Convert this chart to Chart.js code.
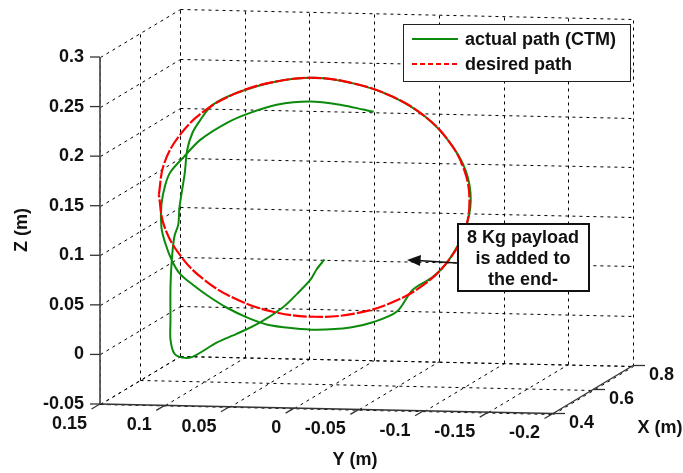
<!DOCTYPE html>
<html>
<head>
<meta charset="utf-8">
<script src="https://cdn.jsdelivr.net/npm/chart.js@4.4.1/dist/chart.umd.min.js"></script>
<style>
  html, body { margin: 0; padding: 0; background: #fff; }
  canvas { display: block; }
</style>
</head>
<body>
<canvas id="chart" width="683" height="473"></canvas>
<script>
// axis ticks (X is depth, Y runs left->right reversed, Z vertical)
const xTicks = [0.4, 0.6, 0.8];
const xTickLabels = ['0.4', '0.6', '0.8'];
const yTicks = [0.15, 0.1, 0.05, 0, -0.05, -0.1, -0.15, -0.2];
const yTickLabels = ['0.15', '0.1', '0.05', '0', '-0.05', '-0.1', '-0.15', '-0.2'];
const zTicks = [-0.05, 0, 0.05, 0.1, 0.15, 0.2, 0.25, 0.3];
const zTickLabels = ['-0.05', '0', '0.05', '0.1', '0.15', '0.2', '0.25', '0.3'];

// both paths lie in the plane X = 0.5
const pathX = 0.5;

// desired path (circle in the Y-Z plane)
const desiredY = [0.12, 0.116, 0.104, 0.085, 0.06, 0.031, 0, -0.031, -0.06, -0.085, -0.104, -0.116,
  -0.12, -0.116, -0.104, -0.085, -0.06, -0.031, 0, 0.031, 0.06, 0.085, 0.104, 0.116, 0.12];
const desiredZ = [0.15, 0.181, 0.21, 0.235, 0.254, 0.266, 0.271, 0.266, 0.254, 0.235, 0.21, 0.181,
  0.15, 0.119, 0.09, 0.065, 0.046, 0.034, 0.03, 0.034, 0.046, 0.065, 0.09, 0.119, 0.15];

// actual path (CTM)
const actualY = [-0.008, -0.002, 0.003, 0.013, 0.024, 0.042, 0.060, 0.075, 0.094, 0.102, 0.108,
  0.111, 0.111, 0.111, 0.110, 0.108, 0.105, 0.104, 0.100, 0.098, 0.094, 0.088, 0.079,
  0.060, 0.031, 0.000, -0.031, -0.060, -0.085, -0.104, -0.117, -0.121, -0.116, -0.104, -0.092, -0.076,
  -0.064, -0.046, -0.028, -0.002, 0.016, 0.036, 0.052, 0.067, 0.081, 0.094, 0.104, 0.110,
  0.115, 0.118, 0.118, 0.115, 0.111, 0.101, 0.088, 0.067, 0.050, 0.029, 0.003, -0.022, -0.038, -0.046];
const actualZ = [0.088, 0.078, 0.067, 0.053, 0.039, 0.023, 0.011, 0.002, -0.013, -0.014, -0.010,
  0.004, 0.024, 0.057, 0.084, 0.108, 0.120, 0.138, 0.172, 0.196, 0.213, 0.226, 0.241,
  0.254, 0.266, 0.271, 0.266, 0.254, 0.235, 0.210, 0.181, 0.150, 0.119, 0.090, 0.073, 0.059,
  0.037, 0.026, 0.020, 0.017, 0.018, 0.021, 0.028, 0.037, 0.048, 0.060, 0.071, 0.084,
  0.101, 0.117, 0.140, 0.160, 0.173, 0.188, 0.206, 0.224, 0.234, 0.243, 0.247, 0.244, 0.240, 0.238];

const xLim = [0.4, 0.8], yLim = [-0.2, 0.15], zLim = [-0.05, 0.3];

// orthographic view: screen vectors for the full range of each axis
const origin = { u: 100, v: 404 };        // corner X=0.4, Y=0.15, Z=-0.05
const xVec = { u: 80, v: -48 };
const yVec = { u: 453, v: 9.5 };
const zVec = { u: 0, v: -347 };

function project(x, y, z) {
  const fx = (x - xLim[0]) / (xLim[1] - xLim[0]);
  const fy = (yLim[1] - y) / (yLim[1] - yLim[0]);
  const fz = (z - zLim[0]) / (zLim[1] - zLim[0]);
  return {
    x: origin.u + fx * xVec.u + fy * yVec.u + fz * zVec.u,
    y: origin.v + fx * xVec.v + fy * yVec.v + fz * zVec.v
  };
}

const FONT = 'bold 18px "Liberation Sans", Arial, sans-serif';

const axes3d = {
  id: 'axes3d',
  beforeDatasetsDraw(chart) {
    const ctx = chart.ctx;
    const sx = chart.scales.x, sy = chart.scales.y;
    const P = (x, y, z) => {
      const p = project(x, y, z);
      return [sx.getPixelForValue(p.x), sy.getPixelForValue(p.y)];
    };
    const seg = (a, b, crisp) => {
      const f = v => crisp ? Math.round(v) + 0.5 : v;
      ctx.beginPath();
      ctx.moveTo(f(a[0]), f(a[1]));
      ctx.lineTo(f(b[0]), f(b[1]));
      ctx.stroke();
    };

    // dotted grid on back wall, side wall and floor
    ctx.save();
    ctx.strokeStyle = '#000';
    ctx.lineWidth = 1;
    ctx.setLineDash([3, 4]);
    yTicks.forEach(y => {
      seg(P(xLim[1], y, zLim[0]), P(xLim[1], y, zLim[1]), true);
      seg(P(xLim[0], y, zLim[0]), P(xLim[1], y, zLim[0]), true);
    });
    zTicks.forEach(z => {
      seg(P(xLim[1], yLim[1], z), P(xLim[1], yLim[0], z), true);
      seg(P(xLim[0], yLim[1], z), P(xLim[1], yLim[1], z), true);
    });
    xTicks.forEach(x => {
      seg(P(x, yLim[1], zLim[0]), P(x, yLim[1], zLim[1]), true);
      seg(P(x, yLim[1], zLim[0]), P(x, yLim[0], zLim[0]), true);
    });
    ctx.restore();

    // axis lines and ticks
    ctx.save();
    ctx.strokeStyle = '#333';
    ctx.lineWidth = 1.3;
    seg(P(xLim[0], yLim[1], zLim[0]), P(xLim[0], yLim[0], zLim[0]));
    seg(P(xLim[0], yLim[0], zLim[0]), P(xLim[1], yLim[0], zLim[0]));
    ctx.lineWidth = 1.8;
    ctx.strokeStyle = '#555';
    seg(P(xLim[0], yLim[1], zLim[0]), P(xLim[0], yLim[1], zLim[1]));
    ctx.lineWidth = 1.3;
    ctx.strokeStyle = '#333';

    ctx.fillStyle = '#111';
    ctx.font = FONT;

    // Z ticks
    ctx.textAlign = 'right';
    ctx.textBaseline = 'middle';
    zTicks.forEach((z, i) => {
      const p = P(xLim[0], yLim[1], z);
      seg(p, [p[0] - 10, p[1]]);
      ctx.fillText(zTickLabels[i], p[0] - 16, p[1]);
    });

    // Y ticks
    yTicks.forEach((y, i) => {
      const p = P(xLim[0], y, zLim[0]);
      seg(p, [p[0] - 8.5, p[1] + 5]);
      ctx.fillText(yTickLabels[i], p[0] - 13, p[1] + 20);
    });

    // X ticks
    ctx.textAlign = 'left';
    xTicks.forEach((x, i) => {
      const p = P(x, yLim[0], zLim[0]);
      seg(p, [p[0] + 12, p[1]]);
      ctx.fillText(xTickLabels[i], p[0] + 16, p[1] + 10);
    });

    // axis titles
    ctx.textAlign = 'center';
    ctx.fillText('Y (m)', 355, 460);
    ctx.fillText('X (m)', 660, 428);
    ctx.save();
    ctx.translate(22, 230);
    ctx.rotate(-Math.PI / 2);
    ctx.fillText('Z (m)', 0, 0);
    ctx.restore();
    ctx.restore();
  },
  afterDatasetsDraw(chart) {
    const ctx = chart.ctx;
    ctx.save();
    ctx.font = FONT;
    ctx.textBaseline = 'middle';

    // legend
    ctx.fillStyle = '#fff';
    ctx.fillRect(403, 24, 227, 57);
    ctx.strokeStyle = '#222';
    ctx.lineWidth = 1;
    ctx.strokeRect(403.5, 24.5, 227, 57);
    chart.data.datasets.forEach((ds, i) => {
      const yy = 39 + i * 25;
      ctx.strokeStyle = ds.borderColor;
      ctx.lineWidth = 2;
      ctx.setLineDash(ds.borderDash ? [5, 3] : []);
      ctx.beginPath();
      ctx.moveTo(412, yy);
      ctx.lineTo(458, yy);
      ctx.stroke();
      ctx.setLineDash([]);
      ctx.fillStyle = '#111';
      ctx.textAlign = 'left';
      ctx.fillText(ds.label, 465, yy + 1);
    });

    // annotation box with arrow
    ctx.fillStyle = '#fff';
    ctx.fillRect(458, 224, 131, 67);
    ctx.strokeStyle = '#111';
    ctx.lineWidth = 2;
    ctx.strokeRect(458, 224, 131, 67);
    ctx.fillStyle = '#111';
    ctx.textAlign = 'center';
    ['8 Kg payload', 'is added to', 'the end-'].forEach((t, i) => {
      ctx.fillText(t, 523, 238 + i * 21);
    });
    ctx.lineWidth = 1.5;
    ctx.beginPath();
    ctx.moveTo(457, 263);
    ctx.lineTo(418, 260.5);
    ctx.stroke();
    ctx.beginPath();
    ctx.moveTo(407, 260);
    ctx.lineTo(421, 255);
    ctx.lineTo(420, 266);
    ctx.closePath();
    ctx.fill();
    ctx.restore();
  }
};

const actualData = actualY.map((y, i) => project(pathX, y, actualZ[i]));
const desiredData = desiredY.map((y, i) => project(pathX, y, desiredZ[i]));

new Chart(document.getElementById('chart').getContext('2d'), {
  type: 'scatter',
  data: {
    datasets: [{
      label: 'actual path (CTM)',
      data: actualData,
      showLine: true,
      borderColor: '#0b8a0b',
      borderWidth: 2,
      pointRadius: 0,
      tension: 0.3,
      order: 2
    }, {
      label: 'desired path',
      data: desiredData,
      showLine: true,
      borderColor: '#ff0000',
      borderDash: [14, 2],
      borderWidth: 2.2,
      pointRadius: 0,
      tension: 0.4,
      order: 1
    }]
  },
  options: {
    responsive: false,
    animation: false,
    layout: { padding: 0 },
    plugins: {
      legend: { display: false },
      tooltip: { enabled: false }
    },
    scales: {
      x: { type: 'linear', min: 0, max: 683, display: false },
      y: { type: 'linear', min: 0, max: 473, reverse: true, display: false }
    }
  },
  plugins: [axes3d]
});
</script>
</body>
</html>
